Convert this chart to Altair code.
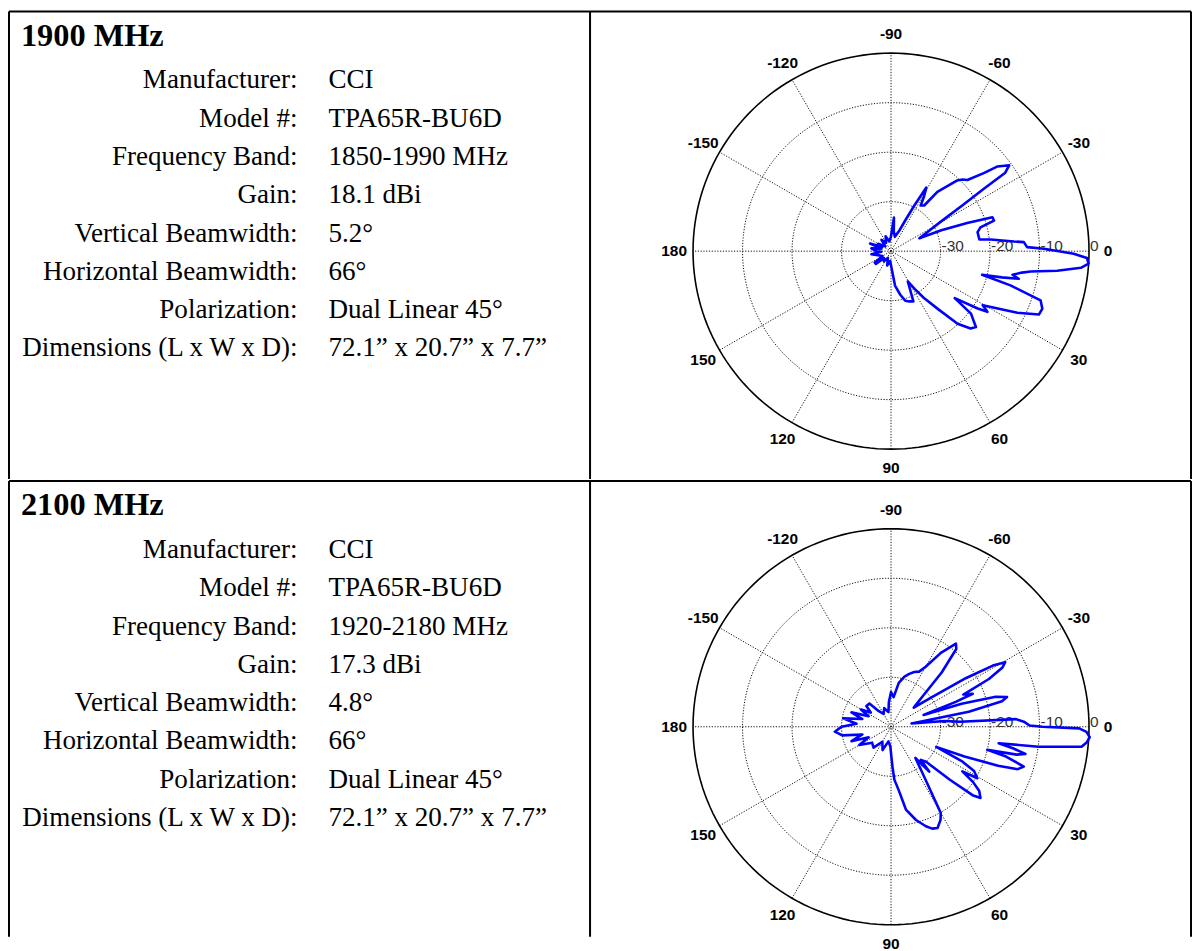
import altair as alt
import pandas as pd

# ---------------- data ----------------
panel_titles = ["1900 MHz", "2100 MHz"]
spec_labels = ["Manufacturer:", "Model #:", "Frequency Band:", "Gain:",
               "Vertical Beamwidth:", "Horizontal Beamwidth:", "Polarization:",
               "Dimensions (L x W x D):"]
spec_values_1900 = ["CCI", "TPA65R-BU6D", "1850-1990 MHz", "18.1 dBi", "5.2°", "66°",
                    "Dual Linear 45°", "72.1” x 20.7” x 7.7”"]
spec_values_2100 = ["CCI", "TPA65R-BU6D", "1920-2180 MHz", "17.3 dBi", "4.8°", "66°",
                    "Dual Linear 45°", "72.1” x 20.7” x 7.7”"]

angles_1900 = [-180, -172, -165, -160, -155, -150, -140, -130, -120, -110, -100, -90, -85, -82,
               -75, -68, -65, -63, -61, -59, -57, -54, -52, -47, -45, -43, -40, -38.5, -36, -34.5,
               -33.9, -32.7, -30.7, -28, -24.6, -22.5, -20.3, -18.5, -16.5, -14.9, -12.4, -7.5,
               -6.7, -4.5, -3.9, -1.7, -0.9, 0.8, 2, 3.6, 5, 6.7, 8.3, 9.3, 11, 12.2, 13.3, 14.5,
               16, 18.2, 20.8, 23.2, 26, 29.2, 30.5, 32.2, 33.5, 36.4, 38, 41.8, 44.2, 47.5, 51,
               55, 58, 61, 66, 70, 74, 78, 83.4, 88, 95, 105, 115, 125, 135, 140, 145, 150, 160,
               171, 176, 180]
gain_1900 = [-37, -36, -38, -35.5, -38, -37, -38.5, -37, -38, -36.8, -38, -37, -33.2, -36,
             -37, -35.5, -33, -29.7, -25.3, -27, -29, -28.6, -24.8, -20.5, -19.5, -18.9, -15.4,
             -12.5, -10.5, -12, -17.4, -22.9, -28.3, -31.5, -33.7, -29, -23.6, -18.4, -18.3,
             -21.3, -22.1, -22, -19.7, -15.1, -13.1, -12.5, -9.1, -3.1, -0.4, 0, -1.5, -6.2,
             -11.5, -13.2, -15, -13.6, -17, -21, -14.9, -8.2, -7.3, -7.5, -11.6, -16.9, -18.5,
             -17, -19, -24, -19.5, -17, -17.6, -20.1, -25, -28.5, -31, -33, -28.9, -29.2, -29.6,
             -31, -33, -36.5, -38, -37, -38.5, -37.5, -38, -36, -36, -38, -37.5, -36, -38, -37]

angles_2100 = [-180, -175, -170, -165, -160, -155, -150, -145, -140, -133, -128, -120, -110,
               -100, -95, -90, -85, -80, -75, -71, -67, -63, -60, -56, -52, -50, -47, -44, -40,
               -36, -33, -31, -29.5, -28, -26, -24, -22, -21, -20, -18, -16, -14.4, -13, -11,
               -9.3, -6, -4.2, -3.5, -2, -0.5, 0, 0.5, 1.5, 3, 4.5, 6, 7.7, 8.7, 10, 11.4, 12.5,
               13.5, 14.5, 16.7, 18.5, 20, 22, 24, 26, 28, 30.8, 32, 34, 36, 38.5, 40, 42, 45,
               48, 49.6, 52, 55.8, 60, 62, 65.3, 68, 70.7, 75, 79.8, 83, 86.4, 88, 92, 100, 110,
               120, 130, 140, 150, 155, 160, 165, 170, 175, 180]
gain_2100 = [-30, -33, -30.2, -34, -31.5, -35, -33, -35, -33.5, -33.6, -36, -37, -36, -37, -35,
             -33, -34, -31, -29.5, -28.7, -28, -27.5, -26, -22, -18.7, -19.5, -25, -31, -34, -30,
             -22, -16, -13.5, -14.5, -18, -24, -22.2, -26, -33, -25, -18, -15.8, -17, -24,
             -35.8, -29, -26, -14.7, -13, -12, -9.4, -2, -0.5, 0.2, -0.3, -1.3, -9.9, -18, -15,
             -12.3, -14, -20, -16, -12, -13, -17, -24, -30, -24, -21, -19.7, -23, -20, -18,
             -16.9, -18.5, -24, -30, -31, -28.1, -32, -28.7, -19.9, -18.7, -17.5, -17.8, -18.7,
             -20.5, -23, -27, -29.3, -32, -36, -37, -35, -36.5, -34.5, -35, -32.6, -35, -31.5,
             -34, -30, -28.6, -30]

tick_angles = [0, 30, 60, 90, 120, 150, 180, 210, 240, 270, 300, 330]
tick_labels = ["0", "30", "60", "90", "120", "150", "180", "-150", "-120", "-90", "-60", "-30"]
ring_db = [-30, -20, -10, 0]
ring_labels = ["-30", "-20", "-10", "0"]
spoke_angles = [0, 30, 60, 90, 120, 150]

# ---------------- layout / style ----------------
K = 199 / 40.0          # pixels per dB
LABEL_R = 218 / K       # angle labels radius (in dB units from -40)
LEFT_W, RIGHT_W = 584, 604
ROW_H = [470, 458]
CENTERS = [(302.5, 241), (302.5, 247)]
SERIF = "Liberation Serif"
SANS = "Liberation Sans"
one = pd.DataFrame({"a": [0]})


def borders(width, height, right=False):
    rule = dict(color="black", strokeWidth=2)
    layers = [
        alt.Chart(one).mark_rule(**rule).encode(x=alt.value(0), x2=alt.value(width), y=alt.value(0)),
        alt.Chart(one).mark_rule(**rule).encode(x=alt.value(0), y=alt.value(0), y2=alt.value(height)),
    ]
    if right:
        layers.append(alt.Chart(one).mark_rule(**rule).encode(
            x=alt.value(width), y=alt.value(0), y2=alt.value(height)))
    return layers


def text_panel(title, values, height):
    df = pd.DataFrame({"row": list(range(len(spec_labels))), "label": spec_labels, "value": values})
    ys = alt.Scale(domain=[0, 7], range=[77.3, 77.3 + 7 * 38.5], nice=False, zero=False)
    lab = alt.Chart(df).mark_text(align="right", baseline="alphabetic", font=SERIF,
                                  fontSize=27.2, color="black").encode(
        x=alt.value(290), y=alt.Y("row:Q", scale=ys, axis=None), text="label:N")
    val = alt.Chart(df).mark_text(align="left", baseline="alphabetic", font=SERIF,
                                  fontSize=27.2, color="black").encode(
        x=alt.value(321), y=alt.Y("row:Q", scale=ys, axis=None), text="value:N")
    ttl = alt.Chart(pd.DataFrame({"t": [title]})).mark_text(
        align="left", baseline="alphabetic", font=SERIF, fontSize=32.5, fontWeight="bold",
        color="black").encode(x=alt.value(12), y=alt.value(34.5), text="t:N")
    return alt.layer(ttl, lab, val, *borders(LEFT_W, height)).properties(width=LEFT_W, height=height)


def polar_panel(angles, gains, height, cx, cy):
    width = RIGHT_W
    xs = alt.Scale(domain=[-cx / K, (width - cx) / K], nice=False, zero=False)
    ys = alt.Scale(domain=[-(height - cy) / K, cy / K], nice=False, zero=False)
    X = alt.X("px:Q", scale=xs, axis=None)
    Y = alt.Y("py:Q", scale=ys, axis=None)
    to_xy = dict(px="datum.r * cos(datum.theta * PI / 180)",
                 py="-datum.r * sin(datum.theta * PI / 180)")

    ring_df = pd.DataFrame([(lv, t) for lv in ring_db for t in range(0, 361, 2)],
                           columns=["level", "theta"])
    rings_base = alt.Chart(ring_df).transform_calculate(r="datum.level + 40", **to_xy)
    rings_dot = rings_base.transform_filter("datum.level < 0").mark_line(
        color="#111111", strokeWidth=1, strokeDash=[1.2, 1.6]).encode(
        x=X, y=Y, detail="level:N", order="theta:Q")
    ring_out = rings_base.transform_filter("datum.level == 0").mark_line(
        color="black", strokeWidth=1.6).encode(x=X, y=Y, detail="level:N", order="theta:Q")

    spoke_df = pd.DataFrame([(a, a + e * 180, e) for a in spoke_angles for e in (0, 1)],
                            columns=["spoke", "theta", "end"])
    spokes = alt.Chart(spoke_df).transform_calculate(r="40", **to_xy).mark_line(
        color="#111111", strokeWidth=1, strokeDash=[1.2, 1.6]).encode(
        x=X, y=Y, detail="spoke:N", order="end:Q")

    tick_df = pd.DataFrame({"theta": tick_angles, "label": tick_labels})
    ticks = alt.Chart(tick_df).transform_calculate(r=str(LABEL_R), **to_xy).mark_text(
        font=SANS, fontSize=15.5, fontWeight="bold", color="black",
        align="center", baseline="middle").encode(x=X, y=Y, text="label:N")

    rl_df = pd.DataFrame({"level": ring_db, "label": ring_labels})
    rlab = alt.Chart(rl_df).transform_calculate(
        px="datum.level + 40", py="0").mark_text(
        font=SANS, fontSize=15.5, color="#333333", align="left", baseline="alphabetic",
        dx=1).encode(x=X, y=Y, text="label:N")

    pat_df = pd.DataFrame({"idx": list(range(len(angles))), "theta": angles, "gain": gains})
    pattern = alt.Chart(pat_df).transform_calculate(
        r="max(datum.gain + 40, 0)", **to_xy).mark_line(
        color="#0000ff", strokeWidth=2.6, strokeJoin="round").encode(
        x=X, y=Y, order="idx:Q")

    return alt.layer(rings_dot, spokes, ring_out, ticks, rlab, pattern,
                     *borders(width, height, right=True)).properties(width=width, height=height)


row1 = alt.hconcat(text_panel(panel_titles[0], spec_values_1900, ROW_H[0]),
                   polar_panel(angles_1900, gain_1900, ROW_H[0], *CENTERS[0]),
                   spacing=0, bounds="flush")
row2 = alt.hconcat(text_panel(panel_titles[1], spec_values_2100, ROW_H[1]),
                   polar_panel(angles_2100, gain_2100, ROW_H[1], *CENTERS[1]),
                   spacing=0, bounds="flush")

chart = alt.vconcat(row1, row2, spacing=0).properties(
    padding=0, background="white").configure_view(stroke=None)

chart.save("out.html", embed_options={"renderer": "svg", "actions": False})
